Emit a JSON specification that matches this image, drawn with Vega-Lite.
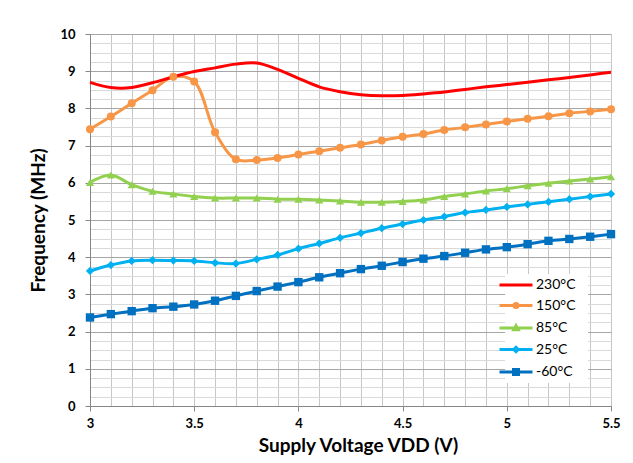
{
  "$schema": "https://vega.github.io/schema/vega-lite/v6.json",
  "autosize": {"type": "none"},
  "width": 521,
  "height": 372,
  "padding": {"left": 90, "top": 34, "right": 22, "bottom": 57},
  "background": "white",
  "config": {"view": {"stroke": null}},
  "data": {"values": [
    {"s":"230°C","v":3.0,"f":8.70},{"s":"230°C","v":3.1,"f":8.56},{"s":"230°C","v":3.2,"f":8.56},{"s":"230°C","v":3.3,"f":8.69},{"s":"230°C","v":3.4,"f":8.85},{"s":"230°C","v":3.5,"f":8.99},{"s":"230°C","v":3.6,"f":9.09},{"s":"230°C","v":3.7,"f":9.19},{"s":"230°C","v":3.8,"f":9.22},{"s":"230°C","v":3.9,"f":9.05},{"s":"230°C","v":4.0,"f":8.81},{"s":"230°C","v":4.1,"f":8.58},{"s":"230°C","v":4.2,"f":8.45},{"s":"230°C","v":4.3,"f":8.37},{"s":"230°C","v":4.4,"f":8.34},{"s":"230°C","v":4.5,"f":8.35},{"s":"230°C","v":4.6,"f":8.39},{"s":"230°C","v":4.7,"f":8.44},{"s":"230°C","v":4.8,"f":8.51},{"s":"230°C","v":4.9,"f":8.58},{"s":"230°C","v":5.0,"f":8.64},{"s":"230°C","v":5.1,"f":8.70},{"s":"230°C","v":5.2,"f":8.77},{"s":"230°C","v":5.3,"f":8.83},{"s":"230°C","v":5.4,"f":8.90},{"s":"230°C","v":5.5,"f":8.97},
    {"s":"150°C","v":3.0,"f":7.44},{"s":"150°C","v":3.1,"f":7.78},{"s":"150°C","v":3.2,"f":8.14},{"s":"150°C","v":3.3,"f":8.49},{"s":"150°C","v":3.4,"f":8.85},{"s":"150°C","v":3.5,"f":8.72},{"s":"150°C","v":3.6,"f":7.36},{"s":"150°C","v":3.7,"f":6.63},{"s":"150°C","v":3.8,"f":6.61},{"s":"150°C","v":3.9,"f":6.67},{"s":"150°C","v":4.0,"f":6.76},{"s":"150°C","v":4.1,"f":6.85},{"s":"150°C","v":4.2,"f":6.94},{"s":"150°C","v":4.3,"f":7.03},{"s":"150°C","v":4.4,"f":7.14},{"s":"150°C","v":4.5,"f":7.24},{"s":"150°C","v":4.6,"f":7.31},{"s":"150°C","v":4.7,"f":7.42},{"s":"150°C","v":4.8,"f":7.49},{"s":"150°C","v":4.9,"f":7.57},{"s":"150°C","v":5.0,"f":7.65},{"s":"150°C","v":5.1,"f":7.72},{"s":"150°C","v":5.2,"f":7.79},{"s":"150°C","v":5.3,"f":7.87},{"s":"150°C","v":5.4,"f":7.92},{"s":"150°C","v":5.5,"f":7.98},
    {"s":"85°C","v":3.0,"f":6.01},{"s":"85°C","v":3.1,"f":6.21},{"s":"85°C","v":3.2,"f":5.95},{"s":"85°C","v":3.3,"f":5.77},{"s":"85°C","v":3.4,"f":5.70},{"s":"85°C","v":3.5,"f":5.63},{"s":"85°C","v":3.6,"f":5.59},{"s":"85°C","v":3.7,"f":5.59},{"s":"85°C","v":3.8,"f":5.59},{"s":"85°C","v":3.9,"f":5.56},{"s":"85°C","v":4.0,"f":5.56},{"s":"85°C","v":4.1,"f":5.54},{"s":"85°C","v":4.2,"f":5.51},{"s":"85°C","v":4.3,"f":5.48},{"s":"85°C","v":4.4,"f":5.48},{"s":"85°C","v":4.5,"f":5.50},{"s":"85°C","v":4.6,"f":5.54},{"s":"85°C","v":4.7,"f":5.63},{"s":"85°C","v":4.8,"f":5.70},{"s":"85°C","v":4.9,"f":5.78},{"s":"85°C","v":5.0,"f":5.84},{"s":"85°C","v":5.1,"f":5.92},{"s":"85°C","v":5.2,"f":5.99},{"s":"85°C","v":5.3,"f":6.05},{"s":"85°C","v":5.4,"f":6.10},{"s":"85°C","v":5.5,"f":6.16},
    {"s":"25°C","v":3.0,"f":3.63},{"s":"25°C","v":3.1,"f":3.79},{"s":"25°C","v":3.2,"f":3.90},{"s":"25°C","v":3.3,"f":3.92},{"s":"25°C","v":3.4,"f":3.91},{"s":"25°C","v":3.5,"f":3.90},{"s":"25°C","v":3.6,"f":3.85},{"s":"25°C","v":3.7,"f":3.83},{"s":"25°C","v":3.8,"f":3.94},{"s":"25°C","v":3.9,"f":4.06},{"s":"25°C","v":4.0,"f":4.23},{"s":"25°C","v":4.1,"f":4.37},{"s":"25°C","v":4.2,"f":4.52},{"s":"25°C","v":4.3,"f":4.65},{"s":"25°C","v":4.4,"f":4.78},{"s":"25°C","v":4.5,"f":4.89},{"s":"25°C","v":4.6,"f":5.00},{"s":"25°C","v":4.7,"f":5.09},{"s":"25°C","v":4.8,"f":5.20},{"s":"25°C","v":4.9,"f":5.27},{"s":"25°C","v":5.0,"f":5.35},{"s":"25°C","v":5.1,"f":5.42},{"s":"25°C","v":5.2,"f":5.49},{"s":"25°C","v":5.3,"f":5.56},{"s":"25°C","v":5.4,"f":5.63},{"s":"25°C","v":5.5,"f":5.70},
    {"s":"-60°C","v":3.0,"f":2.38},{"s":"-60°C","v":3.1,"f":2.47},{"s":"-60°C","v":3.2,"f":2.55},{"s":"-60°C","v":3.3,"f":2.63},{"s":"-60°C","v":3.4,"f":2.67},{"s":"-60°C","v":3.5,"f":2.73},{"s":"-60°C","v":3.6,"f":2.83},{"s":"-60°C","v":3.7,"f":2.96},{"s":"-60°C","v":3.8,"f":3.09},{"s":"-60°C","v":3.9,"f":3.21},{"s":"-60°C","v":4.0,"f":3.33},{"s":"-60°C","v":4.1,"f":3.46},{"s":"-60°C","v":4.2,"f":3.57},{"s":"-60°C","v":4.3,"f":3.68},{"s":"-60°C","v":4.4,"f":3.77},{"s":"-60°C","v":4.5,"f":3.87},{"s":"-60°C","v":4.6,"f":3.96},{"s":"-60°C","v":4.7,"f":4.03},{"s":"-60°C","v":4.8,"f":4.12},{"s":"-60°C","v":4.9,"f":4.21},{"s":"-60°C","v":5.0,"f":4.27},{"s":"-60°C","v":5.1,"f":4.35},{"s":"-60°C","v":5.2,"f":4.44},{"s":"-60°C","v":5.3,"f":4.49},{"s":"-60°C","v":5.4,"f":4.55},{"s":"-60°C","v":5.5,"f":4.62}
  ]},
  "encoding": {
    "x": {
      "field": "v", "type": "quantitative",
      "scale": {"domain": [3, 5.5], "nice": false, "zero": false},
      "axis": {
        "values": [3,3.1,3.2,3.3,3.4,3.5,3.6,3.7,3.8,3.9,4,4.1,4.2,4.3,4.4,4.5,4.6,4.7,4.8,4.9,5,5.1,5.2,5.3,5.4,5.5],
        "format": "~g",
        "labelExpr": "abs(datum.value*2 - round(datum.value*2)) < 0.01 ? datum.label : ''",
        "labelOverlap": false, "labelFlush": false,
        "grid": true, "gridColor": "#c6c6c6", "gridWidth": 1,
        "domainColor": "#868686", "domainWidth": 1,
        "tickColor": "#868686", "tickSize": 5,
        "tickOpacity": {"condition": {"test": "abs(datum.value*2 - round(datum.value*2)) < 0.01", "value": 1}, "value": 0},
        "labelFont": "Lato", "labelFontWeight": "bold", "labelFontSize": 13, "labelColor": "#000000", "labelPadding": 6,
        "title": "Supply Voltage VDD (V)", "titleFont": "Lato", "titleFontWeight": "bold", "titleFontSize": 19, "titleColor": "#000000", "titlePadding": 6, "titleX": 268
      }
    },
    "y": {
      "field": "f", "type": "quantitative",
      "scale": {"domain": [0, 10], "nice": false},
      "axis": {
        "values": [0,0.25,0.5,0.75,1,1.25,1.5,1.75,2,2.25,2.5,2.75,3,3.25,3.5,3.75,4,4.25,4.5,4.75,5,5.25,5.5,5.75,6,6.25,6.5,6.75,7,7.25,7.5,7.75,8,8.25,8.5,8.75,9,9.25,9.5,9.75,10],
        "format": "~g",
        "labelExpr": "abs(datum.value - round(datum.value)) < 0.01 ? datum.label : ''",
        "labelOverlap": false, "labelFlush": false,
        "grid": true,
        "gridColor": {"condition": {"test": "abs(datum.value - round(datum.value)) < 0.01", "value": "#a6a6a6"}, "value": "#d9d9d9"},
        "domainColor": "#868686", "tickColor": "#868686", "tickSize": 5,
        "tickOpacity": {"condition": {"test": "abs(datum.value - round(datum.value)) < 0.01", "value": 1}, "value": 0},
        "labelFont": "Lato", "labelFontWeight": "bold", "labelFontSize": 13, "labelColor": "#000000", "labelPadding": 10,
        "title": "Frequency (MHz)", "titleFont": "Lato", "titleFontWeight": "bold", "titleFontSize": 19, "titleColor": "#000000", "titlePadding": 11
      }
    },
    "color": {
      "field": "s", "type": "nominal",
      "scale": {"domain": ["230°C","150°C","85°C","25°C","-60°C"], "range": ["#ff0000","#f79646","#92d050","#00b0f0","#0070c0"]},
      "legend": {
        "orient": "bottom-right", "offset": 23, "title": null, "padding": 2,
        "fillColor": "white", "strokeColor": null,
        "labelFont": "Lato", "labelFontSize": 14, "labelColor": "#000000",
        "symbolSize": 225, "symbolOffset": 0, "labelOffset": 11, "rowPadding": 4.5,
        "encode": {
          "symbols": {"update": {
            "shape": {"signal": "datum.value == '230°C' ? 'M-3.6,0M8.47,0M-2.2,0H2.2' : datum.value == '150°C' ? 'M-3.6,0M8.47,0M-2.2,0H2.2M0.28,0A0.28,0.28,0,1,1,-0.28,0A0.28,0.28,0,1,1,0.28,0Z' : datum.value == '85°C' ? 'M-3.6,0M8.47,0M-2.2,0H2.2M0,-0.32L0.3,0.24L-0.3,0.24Z' : datum.value == '25°C' ? 'M-3.6,0M8.47,0M-2.2,0H2.2M0,-0.3L0.3,0L0,0.3L-0.3,0Z' : 'M-3.6,0M8.47,0M-2.2,0H2.2M-0.33,-0.33H0.33V0.33H-0.33Z'"},
            "fill": {"scale": "color", "field": "value"},
            "stroke": {"scale": "color", "field": "value"},
            "strokeWidth": {"value": 3},
            "opacity": {"value": 1}
          }}
        }
      }
    }
  },
  "layer": [
    {
      "transform": [{"filter": "datum.s != '230°C'"}],
      "mark": {"type": "line", "strokeWidth": 3, "interpolate": "catmull-rom"}
    },
    {
      "transform": [{"filter": "datum.s == '230°C'"}],
      "mark": {"type": "line", "strokeWidth": 3, "interpolate": "catmull-rom"}
    },
    {
      "transform": [{"filter": "datum.s != '230°C'"}],
      "mark": {"type": "point", "filled": true, "opacity": 1},
      "encoding": {
        "shape": {"field": "s", "type": "nominal", "scale": {"domain": ["150°C","85°C","25°C","-60°C"], "range": ["circle","triangle-up","diamond","square"]}, "legend": null},
        "size": {"field": "s", "type": "ordinal", "scale": {"domain": ["150°C","85°C","25°C","-60°C"], "range": [64, 70, 60, 81]}, "legend": null}
      }
    }
  ]
}
